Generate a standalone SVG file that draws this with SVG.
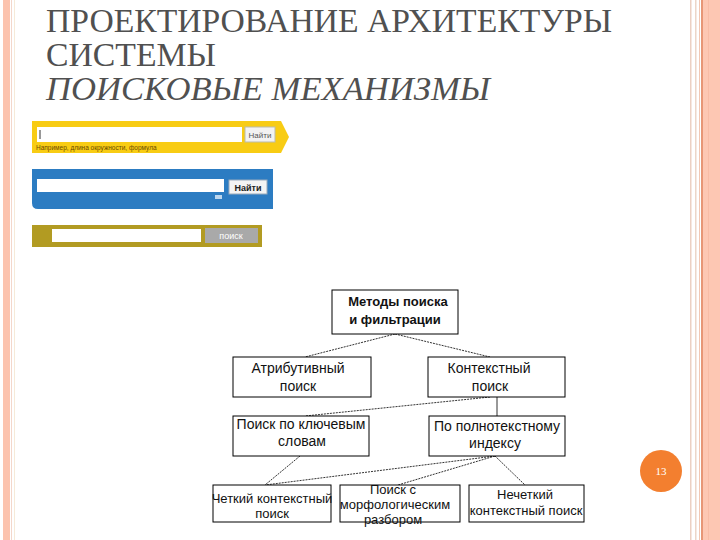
<svg xmlns="http://www.w3.org/2000/svg" width="720" height="540" viewBox="0 0 720 540">
<style>
.title{font-family:"Liberation Serif","DejaVu Serif",serif;font-size:34px;fill:#505050}
.box{fill:#fff;stroke:#000;stroke-width:1}
.t{font-family:"Liberation Sans",Arial,sans-serif;font-size:14px;fill:#111;text-anchor:middle}
.ts{font-family:"Liberation Sans",Arial,sans-serif;font-size:13px;fill:#111;text-anchor:middle}
.tb{font-family:"Liberation Sans",Arial,sans-serif;font-size:13px;font-weight:bold;fill:#111;text-anchor:middle}
.conn line{stroke:#333;stroke-width:1;stroke-dasharray:2,1}
</style>
<rect width="720" height="540" fill="#fff"/>
<!-- borders -->
<rect x="3" y="0" width="7" height="540" fill="#fcc3ae"/>
<rect x="11" y="0" width="1" height="540" fill="#f3d7cb"/>
<rect x="14" y="0" width="1" height="540" fill="#f6ead8"/>
<rect x="690" y="0" width="1.5" height="540" fill="#ecd0c2"/>
<rect x="695" y="0" width="1.5" height="540" fill="#ecd6c8"/>
<rect x="699" y="0" width="1" height="540" fill="#f2c8b4"/>
<rect x="701" y="0" width="2" height="540" fill="#e79676"/>
<rect x="703" y="0" width="17" height="540" fill="#fdc7b3"/>
<rect x="708" y="0" width="1" height="540" fill="#f8bca6"/>
<!-- title -->
<text class="title" x="46" y="32" textLength="566" lengthAdjust="spacingAndGlyphs">ПРОЕКТИРОВАНИЕ АРХИТЕКТУРЫ</text>
<text class="title" x="46" y="66" textLength="170" lengthAdjust="spacingAndGlyphs">СИСТЕМЫ</text>
<text class="title" x="46" y="100" font-style="italic" textLength="444" lengthAdjust="spacingAndGlyphs">ПОИСКОВЫЕ МЕХАНИЗМЫ</text>
<!-- search bars -->
<g id="search-yellow">
<path d="M32 121 H281 L289 137 L281 153 H32 Z" fill="#f8cc14"/>
<rect x="37" y="127" width="205" height="15" fill="#fff"/>
<line x1="40" y1="130" x2="40" y2="139" stroke="#333" stroke-width="1"/>
<rect x="245" y="127" width="30" height="15" fill="#f2f2f2" stroke="#bba" stroke-width="1"/>
<text x="260" y="138" font-family="Liberation Sans,Arial,sans-serif" font-size="8" fill="#555" text-anchor="middle">Найти</text>
<text x="36" y="150" font-family="Liberation Sans,Arial,sans-serif" font-size="6.5" fill="#6a4a00">Например, длина окружности, формула</text>
</g>
<g id="search-blue">
<path d="M32 169 H273 V209 H38 Q32 209 32 203 Z" fill="#2c7cc2"/>
<rect x="37" y="179" width="187" height="13" fill="#fff"/>
<rect x="229" y="180" width="38" height="14" fill="#f4f4f4" stroke="#9ab" stroke-width="1"/>
<text x="248" y="191" font-family="Liberation Sans,Arial,sans-serif" font-size="9" font-weight="bold" fill="#222" text-anchor="middle">Найти</text>
<rect x="215" y="195" width="7" height="4" fill="#bcd6ee"/>
</g>
<g id="search-olive">
<rect x="32" y="225" width="230" height="22" fill="#b29b22"/>
<rect x="52" y="229" width="149" height="13" fill="#fff"/>
<rect x="205" y="228" width="53" height="15" fill="#a9a9a9"/>
<text x="231" y="239" font-family="Liberation Sans,Arial,sans-serif" font-size="9" fill="#fff" text-anchor="middle">поиск</text>
</g>
<!-- connectors -->
<g id="connectors" class="conn">
<line x1="395" y1="334" x2="305" y2="357"/>
<line x1="395" y1="334" x2="490" y2="357"/>
<line x1="490" y1="397" x2="305" y2="416"/>
<line x1="497" y1="397" x2="497" y2="416" style="stroke-dasharray:none"/>
<line x1="300" y1="456" x2="265" y2="485"/>
<line x1="495" y1="456" x2="265" y2="485"/>
<line x1="495" y1="456" x2="398" y2="485"/>
<line x1="495" y1="456" x2="525" y2="485"/>
</g>
<!-- nodes -->
<g id="n-root">
<rect class="box" x="332" y="290" width="126" height="44"/>
<text class="tb" x="398" y="306">Методы поиска</text>
<text class="tb" x="395" y="324">и фильтрации</text>
</g>
<g id="n-attr">
<rect class="box" x="233" y="357" width="138" height="40"/>
<text class="t" x="298" y="373">Атрибутивный</text>
<text class="t" x="298" y="391">поиск</text>
</g>
<g id="n-context">
<rect class="box" x="428" y="357" width="137" height="40"/>
<text class="t" x="489" y="373">Контекстный</text>
<text class="t" x="490" y="391">поиск</text>
</g>
<g id="n-keywords">
<rect class="box" x="233" y="416" width="136" height="40"/>
<text class="t" x="301" y="429">Поиск по ключевым</text>
<text class="t" x="302" y="446">словам</text>
</g>
<g id="n-fulltext">
<rect class="box" x="429" y="416" width="136" height="40"/>
<text class="t" x="497" y="431">По полнотекстному</text>
<text class="t" x="495" y="448">индексу</text>
</g>
<g id="n-exact">
<rect class="box" x="213" y="485" width="118" height="37"/>
<text class="ts" x="272" y="503">Четкий контекстный</text>
<text class="ts" x="272" y="518">поиск</text>
</g>
<g id="n-morph">
<rect class="box" x="340" y="485" width="120" height="37"/>
<text class="ts" x="393" y="494">Поиск с</text>
<text class="ts" x="395" y="509">морфологическим</text>
<text class="ts" x="393" y="524">разбором</text>
</g>
<g id="n-fuzzy">
<rect class="box" x="469" y="485" width="115" height="37"/>
<text class="ts" x="525" y="499">Нечеткий</text>
<text class="ts" x="526" y="515">контекстный поиск</text>
</g>
<!-- page number -->
<g id="page-num">
<circle cx="661" cy="471" r="21" fill="#f37f2f"/>
<text x="661" y="475" font-family="Liberation Serif,serif" font-size="11" fill="#fff" text-anchor="middle">13</text>
</g>
</svg>
